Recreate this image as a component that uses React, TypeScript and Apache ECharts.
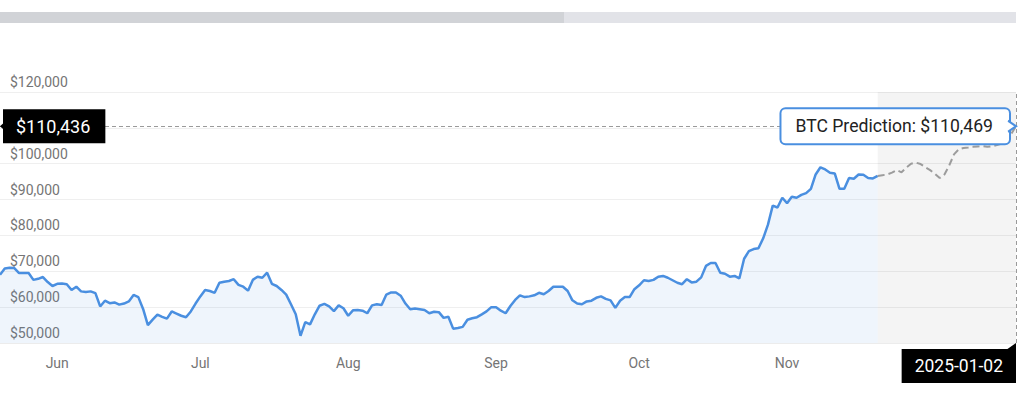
import React, { useEffect, useRef } from 'react';
import * as echarts from 'echarts';

// ---- data (daily closes) ----
const HISTORY_START = '2024-06-03';
const historyPrices = [
  69000, 70800, 71000, 70900, 69500, 69500, 69500, 67600, 67900, 68400,
  67000, 65900, 66500, 66600, 66400, 64800, 65700, 64400, 64200, 64400,
  63900, 60200, 61800, 61100, 61300, 60700, 61000, 61600, 63400, 62800,
  59500, 55000, 56500, 57900, 57300, 56800, 58800, 58200, 57600, 57200,
  58800, 61000, 63000, 64800, 64500, 64000, 66800, 67100, 67300, 67800,
  66200, 65700, 64600, 67600, 68500, 68200, 69600, 66500, 65900, 64800,
  63500, 60800, 58000, 52000, 55800, 55200, 58000, 60400, 60900, 60200,
  58900, 60500, 59700, 57600, 59100, 59200, 59000, 58300, 60500, 60800,
  60600, 63500, 64100, 64100, 63200, 61000, 59400, 59600, 59400, 59200,
  58300, 58700, 58600, 57000, 57300, 54000, 54200, 54500, 56500, 56900,
  57200, 58000, 58800, 60000, 60000, 59000, 58300, 60300, 62000, 63300,
  62800, 63000, 63300, 64000, 63600, 64500, 65700, 65700, 65700, 64500,
  61900, 61000, 60800, 61600, 61800, 62600, 63000, 62300, 61900, 59800,
  61800, 62800, 62800, 65000, 66100, 67500, 67300, 67600, 68500, 68700,
  68200, 67500, 66800, 66400, 67800, 66900, 67100, 68300, 71500, 72300,
  72300, 69600, 69300, 68500, 68700, 68000, 73500, 75600, 76200, 76400,
  79200, 83000, 88300, 87800, 90500, 89000, 90800, 90500, 91300, 91800,
  93000, 97000, 99000, 98400, 97500, 97300, 93000, 93000, 96000, 95800,
  97000, 96900, 96000, 95900, 96600,
];

const PREDICTION_START = '2024-12-04';
const predictionPrices = [
  96600, 96800, 97000, 97500, 98200, 97600, 98900, 100000, 100300, 99900,
  99000, 98200, 97200, 96000, 97000, 99500, 102600, 104000, 104400, 104500,
  104700, 104800, 104900, 104700, 104900, 105200, 105600, 106500, 108300, 110469,
];

const AXIS_START = '2024-06-03';
const AXIS_END = '2025-01-02';
const monthLabelDates = ['2024-06-15', '2024-07-15', '2024-08-15', '2024-09-15', '2024-10-15', '2024-11-15'];
const monthLabels = ['Jun', 'Jul', 'Aug', 'Sep', 'Oct', 'Nov'];
const Y_MIN = 50000;
const Y_MAX = 120000;
const Y_STEP = 10000;
// the $110,000 tick label sits under the crosshair price tag in the reference
const hiddenYLabels = [110000];

const crosshairPrice = 110436;
const predictionTarget = 110469;
const targetDate = '2025-01-02';

const DAY = 86400000;
const ts = (s: string) => {
  const [y, m, d] = s.split('-').map(Number);
  return Date.UTC(y, m - 1, d);
};
const money = (v: number) => '$' + v.toLocaleString('en-US');

const BLUE = '#4a8fe0';
const FONT = 'Roboto';

export default function App() {
  const ref = useRef<HTMLDivElement>(null);

  useEffect(() => {
    if (!ref.current) return;
    const chart = echarts.init(ref.current, undefined, { renderer: 'svg' });

    const h0 = ts(HISTORY_START);
    const p0 = ts(PREDICTION_START);
    const history = historyPrices.map((v, i) => [h0 + i * DAY, v]);
    const prediction = predictionPrices.map((v, i) => [p0 + i * DAY, v]);
    const labelTs = monthLabelDates.map(ts);
    const labelMap = new Map(labelTs.map((t, i) => [t, monthLabels[i]]));
    const xStart = ts(AXIS_START);
    const xEnd = ts(targetDate);

    const tagText = {
      color: '#fff',
      backgroundColor: '#000',
      fontFamily: FONT,
      fontSize: 17.5,
      lineHeight: 20,
      opacity: 1,
    };

    chart.setOption({
      animation: false,
      textStyle: { fontFamily: FONT },
      graphic: [
        { type: 'rect', shape: { x: 0, y: 12, width: 564, height: 11 }, style: { fill: '#d1d3d7' }, silent: true },
        { type: 'rect', shape: { x: 564, y: 12, width: 452, height: 11 }, style: { fill: '#e2e3e8' }, silent: true },
      ],
      grid: { left: 0, right: 8, top: 92, bottom: 56 },
      xAxis: {
        type: 'value',
        min: xStart,
        max: ts(AXIS_END),
        axisLine: { show: true, lineStyle: { color: '#ececec' } },
        axisTick: { show: false },
        splitLine: { show: false },
        axisLabel: {
          customValues: labelTs,
          formatter: (v: number) => labelMap.get(v) || '',
          color: '#757575',
          fontSize: 14,
          fontFamily: FONT,
          margin: 13,
        },
      },
      yAxis: {
        type: 'value',
        min: Y_MIN,
        max: Y_MAX,
        interval: Y_STEP,
        axisLine: { show: false },
        axisTick: { show: false },
        splitLine: { lineStyle: { color: '#efefef' } },
        axisLabel: {
          inside: true,
          margin: 10,
          verticalAlign: 'bottom',
          padding: [0, 0, 3, 0],
          color: '#757575',
          fontSize: 14,
          fontFamily: FONT,
          formatter: (v: number) => (hiddenYLabels.includes(v) ? '' : money(v)),
        },
      },
      series: [
        {
          name: 'BTC',
          type: 'line',
          data: history,
          showSymbol: false,
          symbol: 'none',
          lineStyle: { color: BLUE, width: 2.5 },
          itemStyle: { color: BLUE },
          areaStyle: { color: 'rgba(74,143,224,0.13)', origin: 'start' },
          markArea: {
            silent: true,
            itemStyle: { color: 'rgba(0,0,0,0.042)' },
            data: [[{ xAxis: p0 }, { xAxis: xEnd }]],
          },
          z: 3,
        },
        {
          name: 'BTC Prediction',
          type: 'line',
          data: prediction,
          showSymbol: false,
          symbol: 'none',
          lineStyle: { color: '#9c9c9c', width: 2, type: [7, 4] },
          itemStyle: { color: '#9c9c9c' },
          markLine: {
            silent: true,
            symbol: 'none',
            label: { show: false },
            lineStyle: { color: '#9a9a9a', width: 1, type: [4, 3] },
            data: [{ yAxis: crosshairPrice }, { xAxis: xEnd }],
          },
          z: 3,
        },
        {
          name: 'tags',
          type: 'scatter',
          clip: false,
          silent: true,
          z: 10,
          symbolSize: 0,
          itemStyle: { color: 'rgba(0,0,0,0)', opacity: 1 },
          label: { show: true, opacity: 1, formatter: (p: any) => p.data.tag },
          data: [
            {
              value: [xStart, crosshairPrice],
              tag: money(crosshairPrice),
              label: { position: 'right', distance: 3, padding: [7, 15, 7, 13], ...tagText, fontSize: 18 },
            },
            {
              value: [xEnd, predictionTarget],
              tag: 'BTC Prediction: ' + money(predictionTarget),
              label: {
                position: 'left',
                distance: 7,
                color: '#222',
                backgroundColor: '#fff',
                borderColor: BLUE,
                borderWidth: 2,
                borderRadius: 4,
                fontFamily: FONT,
                fontSize: 17.6,
                lineHeight: 20,
                padding: [7, 16, 7, 14],
                opacity: 1,
              },
            },
            {
              value: [xEnd, Y_MIN],
              tag: targetDate,
              label: { position: 'bottom', distance: 6, align: 'right', padding: [7, 13, 7, 13], ...tagText },
            },
          ],
        },
        {
          name: 'tag-arrows',
          type: 'scatter',
          clip: false,
          silent: true,
          z: 11,
          label: { show: false },
          data: [
            {
              value: [xStart, crosshairPrice],
              symbol: 'path://M6,0 L0,5 L6,10 Z',
              symbolSize: [5, 9],
              symbolOffset: [2.5, 0],
              itemStyle: { color: '#000', opacity: 1 },
            },
            {
              value: [xEnd, predictionTarget],
              symbol: 'path://M0,0 L8,5 L0,10',
              symbolSize: [8, 11],
              symbolOffset: [-4, 0],
              itemStyle: { color: '#fff', borderColor: BLUE, borderWidth: 2, opacity: 1 },
            },
            {
              value: [xEnd, Y_MIN],
              symbol: 'path://M10,0 L10,10 L0,10 Z',
              symbolSize: [10, 7],
              symbolOffset: [-5, 3.5],
              itemStyle: { color: '#000', opacity: 1 },
            },
          ],
        },
      ],
    });

    return () => chart.dispose();
  }, []);

  return (
    <div
      ref={ref}
      style={{ position: 'absolute', left: 0, top: 0, width: 1024, height: 399, background: '#fff' }}
    />
  );
}
